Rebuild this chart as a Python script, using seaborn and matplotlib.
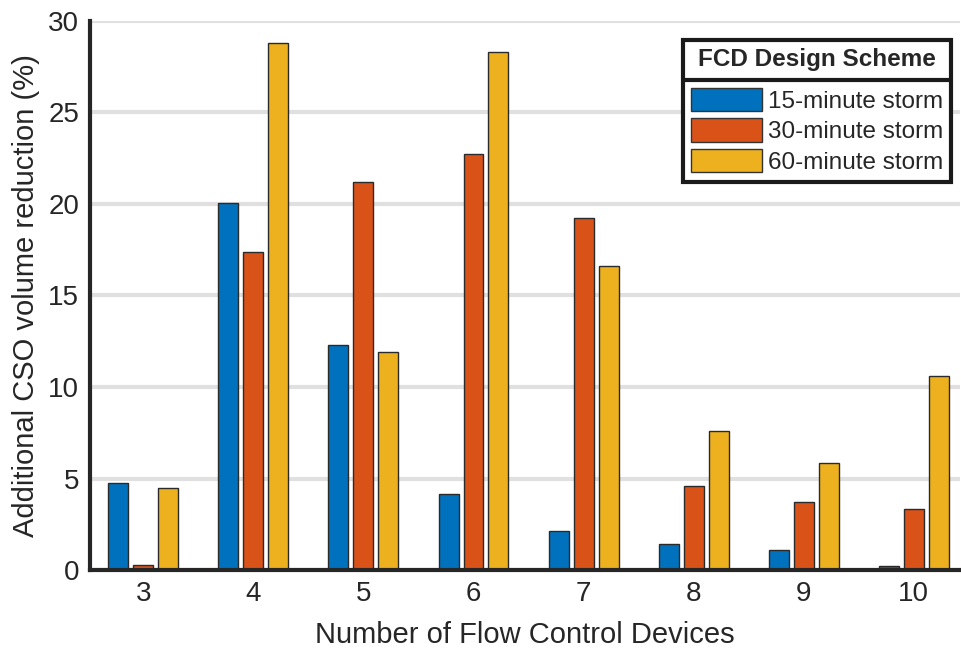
import pandas as pd
import numpy as np
import matplotlib
matplotlib.use("Agg")
import matplotlib.pyplot as plt
import seaborn as sns
from matplotlib.lines import Line2D

# -------------------
# Data
devices = ["3", "4", "5", "6", "7", "8", "9", "10"]
storm_15 = [4.75, 20.05, 12.3, 4.15, 2.15, 1.45, 1.1, 0.25]
storm_30 = [0.28, 17.4, 21.2, 22.7, 19.25, 4.6, 3.7, 3.35]
storm_60 = [4.5, 28.8, 11.9, 28.3, 16.6, 7.6, 5.85, 10.6]
schemes = ["15-minute storm", "30-minute storm", "60-minute storm"]
colors = ["#0072BD", "#D95319", "#EDB120"]

df = pd.DataFrame({
    "devices": devices * 3,
    "scheme": np.repeat(schemes, len(devices)),
    "reduction": storm_15 + storm_30 + storm_60})

# -------------------
sns.set_style("white")
plt.rcParams['font.family'] = ['Liberation Sans', 'DejaVu Sans']
text_color = "#262626"

fig = plt.figure(figsize=(9.62, 6.48), dpi=100)
ax = fig.add_axes([0.094, 0.12, 0.904, 0.848])

sns.barplot(data=df, x="devices", y="reduction", hue="scheme", order=devices,
            hue_order=schemes, palette=colors, saturation=1, width=0.68, gap=0.2,
            edgecolor="#2a2a2a", linewidth=1.0, errorbar=None, ax=ax, zorder=3)

ax.set_ylim(0, 30)
ax.set_xlim(-0.48, 7.42)
ax.set_yticks(range(0, 31, 5))
ax.yaxis.grid(True, color="#e0e0e0", linewidth=3)
ax.set_axisbelow(True)

for s in ["top", "right"]:
    ax.spines[s].set_visible(False)
for s in ["left", "bottom"]:
    ax.spines[s].set_linewidth(3)
    ax.spines[s].set_color("#262626")
    ax.spines[s].set_zorder(5)

ax.tick_params(axis="both", length=0, labelsize=20, colors=text_color, pad=8)
ax.set_xlabel("Number of Flow Control Devices", fontsize=21, color=text_color, labelpad=10)
ax.set_ylabel("Additional CSO volume reduction (%)", fontsize=21, color=text_color, labelpad=6)

leg = ax.legend(title="FCD Design Scheme", loc="upper right",
                bbox_to_anchor=(0.99, 0.965), fontsize=17.5,
                title_fontproperties={"weight": "bold", "size": 17.5},
                frameon=True, fancybox=False, framealpha=1,
                handlelength=2.9, handleheight=1.1,
                handletextpad=0.25, labelspacing=0.22, borderpad=0.35,
                borderaxespad=0, edgecolor="#1a1a1a")
leg.get_frame().set_linewidth(3)
leg._legend_box.sep = 12  # more room between title and entries
for patch in leg.get_patches():
    patch.set_edgecolor("#333333")
    patch.set_linewidth(1)

# separator line between legend title and entries
fig.canvas.draw()
renderer = fig.canvas.get_renderer()
lb = leg.get_window_extent(renderer)
tb = leg.get_title().get_window_extent(renderer)
hb = leg.get_patches()[0].get_window_extent(renderer)
y_sep = (tb.y0 + hb.y1) / 2
inv = fig.transFigure.inverted()
(x0, y0), (x1, _) = inv.transform([(lb.x0, y_sep), (lb.x1, y_sep)])
fig.add_artist(Line2D([x0, x1], [y0, y0], transform=fig.transFigure,
                      color="#1a1a1a", linewidth=3, zorder=10))

fig.savefig("out.png", dpi=100, facecolor="white")
